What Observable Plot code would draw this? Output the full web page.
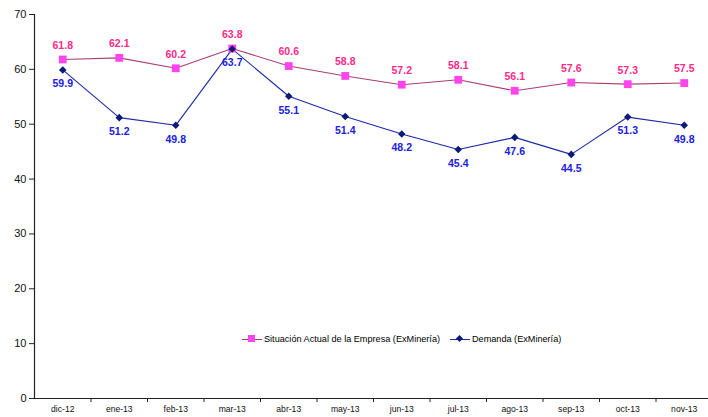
<!DOCTYPE html>
<html><head><meta charset="utf-8">
<script src="https://cdn.jsdelivr.net/npm/d3@7"></script>
<script src="https://cdn.jsdelivr.net/npm/@observablehq/plot@0.6"></script>
<style>
body{margin:0;background:#fff;font-family:"Liberation Sans",Arial,sans-serif;}
#wrap{position:relative;width:708px;height:417px;}
#legend{position:absolute;top:333px;left:242px;font-size:9.15px;color:#000;display:flex;align-items:center;white-space:nowrap;}
.item{display:flex;align-items:center;margin-right:10px;}
.sym{position:relative;width:20px;height:12px;margin-right:2px;}
.sym .ln{position:absolute;left:0;right:0;top:5.5px;height:1px;}
.sym .mk{position:absolute;}
</style></head>
<body><div id="wrap"></div>
<script>
const months = ["dic-12","ene-13","feb-13","mar-13","abr-13","may-13","jun-13","jul-13","ago-13","sep-13","oct-13","nov-13"];
const situacion = [61.8,62.1,60.2,63.8,60.6,58.8,57.2,58.1,56.1,57.6,57.3,57.5];
const demanda = [59.9,51.2,49.8,63.7,55.1,51.4,48.2,45.4,47.6,44.5,51.3,49.8];
const yTicks = [0,10,20,30,40,50,60,70];
const seriesNames = ["Situación Actual de la Empresa (ExMinería)","Demanda (ExMinería)"];

const pinkLine = "#a8406e", pinkFill = "#ff44ee", pinkText = "#ff2a8a";
const blueLine = "#1c2aa6", blueFill = "#0c1a78", blueText = "#2020dd";

const sData = months.map((m,i)=>({i, m, v: situacion[i]}));
const dData = months.map((m,i)=>({i, m, v: demanda[i]}));
const idx = months.map((m,i)=>i);
const bounds = months.map((m,i)=>i+0.5);

const chart = Plot.plot({
  width: 708, height: 417,
  marginLeft: 34, marginRight: 0, marginTop: 14, marginBottom: 19,
  style: {fontFamily: "'Liberation Sans', Arial, sans-serif", background: "#fff"},
  x: {domain: [-0.5, 11.5], range: [34, 712]},
  y: {domain: [0, 70], range: [398, 14]},
  marks: [
    Plot.axisY({ticks: yTicks, tickSize: 5, tickPadding: 3, fontSize: 11, stroke: "#222", color: "#111", label: null}),
    Plot.axisX({ticks: bounds, tickSize: 4, tickFormat: () => "", stroke: "#222", label: null}),
    Plot.axisX({ticks: idx, tickSize: 0, tickPadding: 7, tickFormat: i => months[i], fontSize: 8.6, color: "#111", label: null}),
    Plot.ruleX([-0.5], {stroke: "#222", strokeWidth: 1.2}),
    Plot.ruleY([0], {stroke: "#222", strokeWidth: 1.2}),
    Plot.line(sData, {x: "i", y: "v", stroke: pinkLine, strokeWidth: 1.1}),
    Plot.line(dData, {x: "i", y: "v", stroke: blueLine, strokeWidth: 1.1}),
    Plot.dot(sData, {x: "i", y: "v", symbol: "square", r: 4.4, fill: pinkFill, stroke: "none"}),
    Plot.dot(dData, {x: "i", y: "v", symbol: "diamond2", r: 3.4, fill: blueFill, stroke: "none"}),
    Plot.text(sData, {x: "i", y: "v", text: d => d.v.toFixed(1), dy: -14, fill: pinkText, fontWeight: "bold", fontSize: 10.5}),
    Plot.text(dData, {x: "i", y: "v", text: d => d.v.toFixed(1), dy: 14, fill: blueText, fontWeight: "bold", fontSize: 10.5})
  ]
});
const wrap = document.getElementById("wrap");
wrap.appendChild(chart);

const legend = document.createElement("div");
legend.id = "legend";
legend.innerHTML = `
<div class="item"><div class="sym"><div class="ln" style="background:${pinkLine}"></div><div class="mk" style="left:6px;top:2px;width:7px;height:7px;background:${pinkFill}"></div></div><span>${seriesNames[0]}</span></div>
<div class="item"><div class="sym"><div class="ln" style="background:${blueLine}"></div><div class="mk" style="left:7px;top:2.5px;width:5px;height:5px;background:${blueFill};transform:rotate(45deg)"></div></div><span>${seriesNames[1]}</span></div>`;
wrap.appendChild(legend);
</script></body></html>
